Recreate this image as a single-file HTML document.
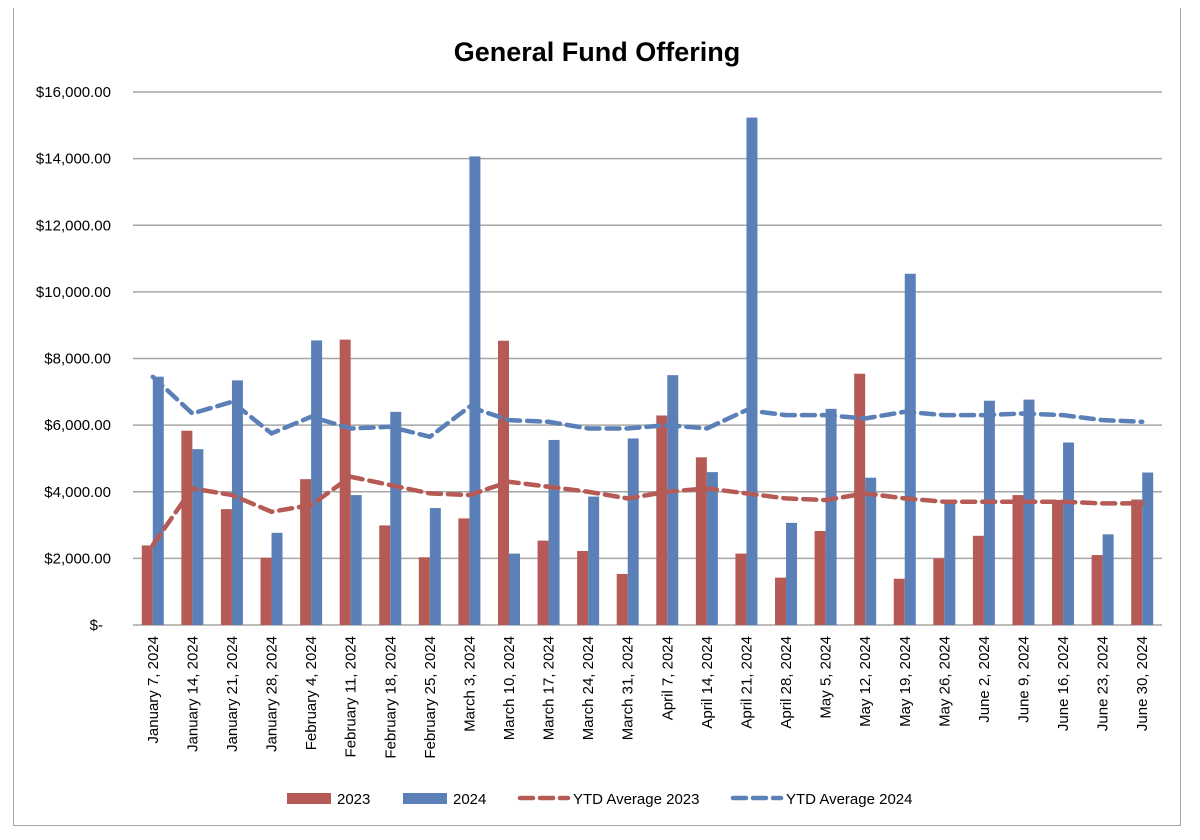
<!DOCTYPE html>
<html><head><meta charset="utf-8"><style>
body{margin:0;background:#fff;font-family:"Liberation Sans",sans-serif}
#frame{position:absolute;left:13px;top:8px;width:1168px;height:818px;border:1.5px solid #a6a6a6;box-sizing:border-box;border-top:none}
</style></head><body>
<div id="frame"></div>
<svg id="chart" width="1200" height="840" style="position:absolute;left:0;top:0"></svg>
<script>
const categories=["January 7, 2024","January 14, 2024","January 21, 2024","January 28, 2024","February 4, 2024","February 11, 2024","February 18, 2024","February 25, 2024","March 3, 2024","March 10, 2024","March 17, 2024","March 24, 2024","March 31, 2024","April 7, 2024","April 14, 2024","April 21, 2024","April 28, 2024","May 5, 2024","May 12, 2024","May 19, 2024","May 26, 2024","June 2, 2024","June 9, 2024","June 16, 2024","June 23, 2024","June 30, 2024"];
const values2023=[2389,5833,3478,2022,4378,8566,2989,2033,3200,8533,2533,2222,1533,6289,5033,2144,1422,2822,7544,1389,2000,2678,3900,3755,2100,3766];
const values2024=[7455,5278,7344,2767,8544,3900,6400,3511,14066,2144,5555,3855,5600,7500,4589,15232,3067,6489,4422,10544,3755,6733,6766,5478,2722,4578];
const ytd2023=[2400,4100,3900,3400,3600,4450,4200,3950,3900,4300,4150,4000,3800,4000,4100,3950,3800,3750,3950,3800,3700,3700,3700,3700,3650,3650];
const ytd2024=[7450,6350,6700,5750,6250,5900,5950,5650,6550,6150,6100,5900,5900,6000,5900,6450,6300,6300,6200,6400,6300,6300,6350,6300,6150,6100];
const yTicks=[0,2000,4000,6000,8000,10000,12000,14000,16000];
const yTickLabels=["$-","$2,000.00","$4,000.00","$6,000.00","$8,000.00","$10,000.00","$12,000.00","$14,000.00","$16,000.00"];

const svg=document.getElementById('chart');
const NS='http://www.w3.org/2000/svg';
const L=133,R=1162,T=92,B=625,yMax=16000;
const bw=(R-L)/categories.length;
function x(i){return L+bw*(i+0.5);}
function y(v){return B-(v/yMax)*(B-T);}
function mk(t,a){const e=document.createElementNS(NS,t);for(const k in a)e.setAttribute(k,a[k]);svg.appendChild(e);return e;}

const title=mk('text',{x:597,y:61,'text-anchor':'middle','font-size':27,'font-weight':'bold',fill:'#000'});
title.textContent='General Fund Offering';



yTicks.forEach((v,i)=>{
  const g=mk('line',{x1:L,x2:R,y1:y(v),y2:y(v),stroke:'#a6a6a6','stroke-width':1.5});
  
  
  const t=mk('text',{x:v===0?103:111,y:y(v)+5,'text-anchor':'end','font-size':15,fill:'#000'});
  t.textContent=yTickLabels[i];
  
  
});

const barW=11;
categories.forEach((c,i)=>{
  const r=mk('rect',{x:x(i)-barW,y:y(values2023[i]),width:barW,height:B-y(values2023[i]),fill:'#b55a54'});
  
  
  const b=mk('rect',{x:x(i),y:y(values2024[i]),width:barW,height:B-y(values2024[i]),fill:'#5b80b8'});
  
  
  const t=mk('text',{x:0,y:0,'text-anchor':'end','font-size':15,fill:'#000',transform:`translate(${x(i)+5},636) rotate(-90)`});
  t.textContent=c;
  
  
});

function line(arr,col,name){
  const p=mk('polyline',{points:arr.map((v,i)=>x(i)+','+y(v)).join(' '),fill:'none',stroke:col,'stroke-width':4.5,'stroke-dasharray':'13,7','stroke-linecap':'round'});
  
  
}
line(ytd2023,'#b55a54','ytd-average-2023-line');
line(ytd2024,'#5b80b8','ytd-average-2024-line');

const legend=[[287,'2023','#b55a54',false],[403,'2024','#5b80b8',false],[520,'YTD Average 2023','#b55a54',true],[733,'YTD Average 2024','#5b80b8',true]];
legend.forEach(([lx,lab,col,dash])=>{
  let m;
  if(dash){m=mk('line',{x1:lx,x2:lx+48,y1:798,y2:798,stroke:col,'stroke-width':4.5,'stroke-dasharray':'13,7','stroke-linecap':'round'});}
  else{m=mk('rect',{x:lx,y:793,width:44,height:11,fill:col});}
  
  
  const t=mk('text',{x:lx+(dash?53:50),y:804,'font-size':15,fill:'#000'});
  t.textContent=lab;
  
  
});
</script>
</body></html>
